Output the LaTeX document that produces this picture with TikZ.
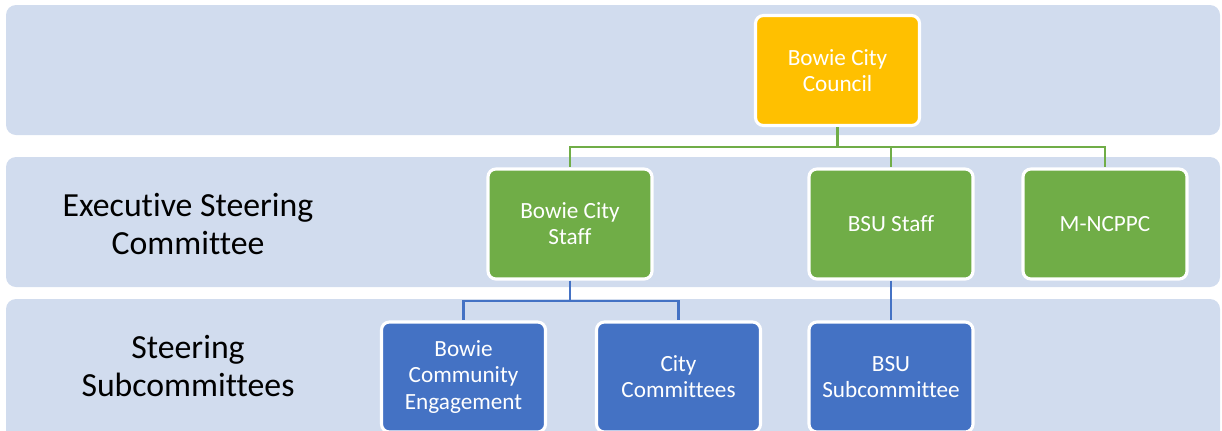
\documentclass[tikz,border=0pt]{standalone}
\usepackage{fontspec}
\setmainfont[Ligatures={NoCommon,NoRequired}]{Carlito}
\usepackage{xcolor}
\usetikzlibrary{positioning}
\definecolor{bandbg}{HTML}{D1DCEE}
\definecolor{council}{HTML}{FFC000}
\definecolor{staffgreen}{HTML}{70AD47}
\definecolor{subblue}{HTML}{4472C4}
\tikzset{
    band/.style={
        fill=bandbg,
        rounded corners=0.25cm
    },
    orgbox/.style={
        rectangle,
        rounded corners=0.2cm,
        draw=white,
        line width=2.2pt,
        text=white,
        align=center,
        minimum width=4.1cm,
        minimum height=2.75cm,
        font=\fontsize{16.5}{18.5}\selectfont
    },
    level/.style={
        align=center,
        font=\fontsize{24}{27}\selectfont
    },
    link/.style={
        line width=2pt
    }
}

\begin{document}
\begin{tikzpicture}[x=0.025cm,y=-0.025cm]
          \useasboundingbox (0,0) rectangle (1222,430);
          \begin{scope}
          \clip (0,0) rectangle (1222,430);
          % bands
          \fill [band] (6,5) rectangle (1220,135);
          \fill [band] (6,157) rectangle (1220,287);
          \fill [band] (6,299) rectangle (1220,445);
          \node (exec) [level] at (188,224) {Executive Steering\\Committee};
          \node (subs) [level] at (188,366) {Steering\\Subcommittees};
          % boxes
          \node (council) [orgbox, fill=council] at (837.5,70.5) {Bowie City\\Council};
          \node (citystaff) [orgbox, fill=staffgreen] at (570,224) {Bowie City\\Staff};
          \node (bsustaff) [orgbox, fill=staffgreen] at (891,224) {BSU Staff};
          \node (mncppc) [orgbox, fill=staffgreen] at (1105,224) {M-NCPPC};
          \node (engage) [orgbox, fill=subblue] at (463.5,377) {Bowie\\Community\\Engagement};
          \node (citycom) [orgbox, fill=subblue] at (678.5,377) {City\\Committees};
          \node (bsusub) [orgbox, fill=subblue] at (891,377) {BSU\\Subcommittee};
          % links
          \draw [link, staffgreen] (council.south) |- (570,147) -- (citystaff.north);
          \draw [link, staffgreen] (council.south) |- (1105,147) -- (mncppc.north);
          \draw [link, staffgreen] (891,147) -- (bsustaff.north);
          \draw [link, subblue] (citystaff.south) |- (463.5,301) -- (engage.north);
          \draw [link, subblue] (citystaff.south) |- (678.5,301) -- (citycom.north);
          \draw [link, subblue] (bsustaff.south) -- (bsusub.north);
          \end{scope}
        \end{tikzpicture}
\end{document}
